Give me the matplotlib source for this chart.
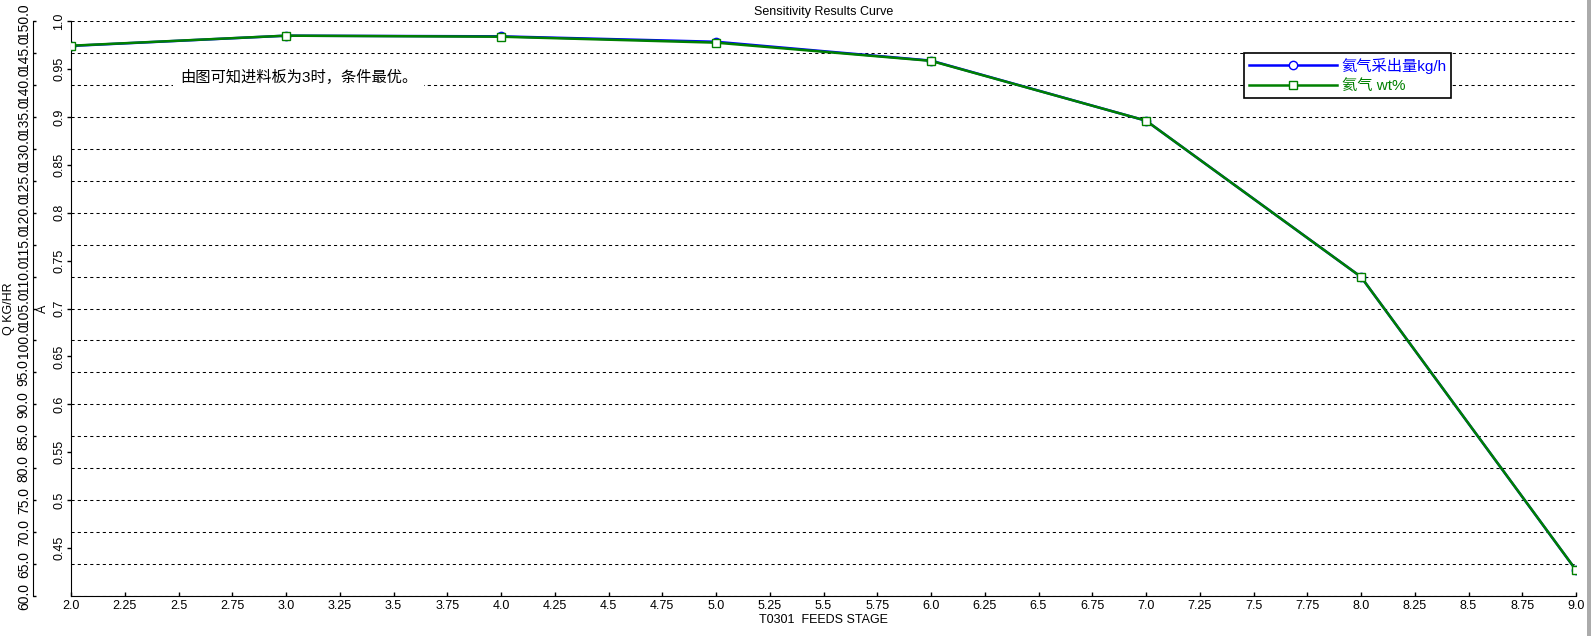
import matplotlib
matplotlib.use('Agg')
import matplotlib.pyplot as plt
from matplotlib.patches import Rectangle

plt.rcParams['font.family'] = ['Liberation Sans', 'Noto Sans CJK SC']

# data
stages = [2.0, 3.0, 4.0, 5.0, 6.0, 7.0, 8.0, 9.0]
he_flow = [146.1, 147.7, 147.6, 146.75, 143.8, 134.4, 109.95, 64.05]   # kg/h, left outer axis
he_wt = [0.9742, 0.9847, 0.9836, 0.9774, 0.9584, 0.896, 0.733, 0.4271]  # wt%, inner axis

x_ticks = [2.0, 2.25, 2.5, 2.75, 3.0, 3.25, 3.5, 3.75, 4.0, 4.25, 4.5, 4.75, 5.0, 5.25,
           5.5, 5.75, 6.0, 6.25, 6.5, 6.75, 7.0, 7.25, 7.5, 7.75, 8.0, 8.25, 8.5, 8.75, 9.0]
x_labels = ['2.0', '2.25', '2.5', '2.75', '3.0', '3.25', '3.5', '3.75', '4.0', '4.25', '4.5',
            '4.75', '5.0', '5.25', '5.5', '5.75', '6.0', '6.25', '6.5', '6.75', '7.0', '7.25',
            '7.5', '7.75', '8.0', '8.25', '8.5', '8.75', '9.0']
q_ticks = [60.0 + 5 * i for i in range(19)]
a_ticks = [0.45, 0.5, 0.55, 0.6, 0.65, 0.7, 0.75, 0.8, 0.85, 0.9, 0.95, 1.0]
a_labels = ['0.45', '0.5', '0.55', '0.6', '0.65', '0.7', '0.75', '0.8', '0.85', '0.9', '0.95', '1.0']

W, H = 1591, 636
fig = plt.figure(figsize=(W / 100, H / 100), dpi=100)
fig.patch.set_facecolor('white')
ax = fig.add_axes([71 / W, 1 - 596 / H, (1576 - 71) / W, (596 - 21) / H])

# Q axis (outer), carries the grid and the blue line
ax.plot(stages, he_flow, color='#0000ff', lw=1.8, marker='o', ms=6,
        mfc='white', mec='#0000ff', mew=1, label='氦气采出量kg/h', zorder=3)
ax.set_xlim(2.0, 9.0)
ax.set_ylim(60.0, 150.0)
ax.set_yticks(q_ticks)
ax.set_yticklabels(['%.1f' % v for v in q_ticks], fontsize=9)
ax.spines['left'].set_position(('outward', 27.4))
ax.spines['top'].set_visible(False)
ax.spines['right'].set_visible(False)
ax.tick_params(axis='y', direction='in', length=2.5, pad=1.5, width=1, labelrotation=90)
for t in ax.get_yticklabels():
    t.set_va('center')
ax.set_ylabel('Q KG/HR', fontsize=9, labelpad=1)
ax.grid(axis='y', color='black', lw=0.75, linestyle=(0, (3, 3)))
ax.grid(axis='x', visible=False)
ax.set_xticks(x_ticks)
ax.set_xticklabels(x_labels, fontsize=9)
ax.tick_params(axis='x', direction='in', length=3, pad=3, width=1)
ax.set_xlabel('T0301  FEEDS STAGE', fontsize=9, labelpad=1)
ax.set_title('Sensitivity Results Curve', fontsize=9, pad=4)

# A axis (inner), green line on top
ax2 = ax.twinx()
ax2.plot(stages, he_wt, color='#008000', lw=1.8, marker='s', ms=6,
         mfc='white', mec='#008000', mew=1, label='氦气 wt%', zorder=3)
ax2.set_ylim(0.4, 1.0)
ax2.yaxis.set_ticks_position('left')
ax2.yaxis.set_label_position('left')
ax2.spines['left'].set_visible(True)
ax2.spines['left'].set_position(('outward', 0))
for s in ['top', 'right', 'bottom']:
    ax2.spines[s].set_visible(False)
ax2.set_yticks(a_ticks)
ax2.set_yticklabels(a_labels, fontsize=9)
ax2.tick_params(axis='y', direction='out', length=3, pad=1, width=1, labelrotation=90)
for t in ax2.get_yticklabels():
    t.set_va('center')
ax2.set_ylabel('A', fontsize=9, labelpad=3)

ax2.text(180 / W, 1 - 77 / H, '由图可知进料板为3时，条件最优。', transform=fig.transFigure,
         fontsize=11, va='center', ha='left', color='black',
         bbox=dict(facecolor='white', edgecolor='none', pad=5))

h1, l1 = ax.get_legend_handles_labels()
h2, l2 = ax2.get_legend_handles_labels()
leg = ax2.legend(h1 + h2, l1 + l2, loc='upper left', bbox_to_anchor=(1244 / W, 1 - 53 / H),
                 bbox_transform=fig.transFigure, fontsize=11, handlelength=5.8,
                 fancybox=False, framealpha=1, edgecolor='black', borderpad=0.3,
                 labelspacing=0.35, handletextpad=0.3, borderaxespad=0)
leg.get_frame().set_linewidth(1.2)
leg.get_texts()[0].set_color('#0000ff')
leg.get_texts()[1].set_color('#008000')

fig.patches.append(Rectangle((1587 / W, 0), 4 / W, 1, transform=fig.transFigure,
                             facecolor='#ababab', edgecolor='none'))

fig.savefig('out.png', dpi=100)
